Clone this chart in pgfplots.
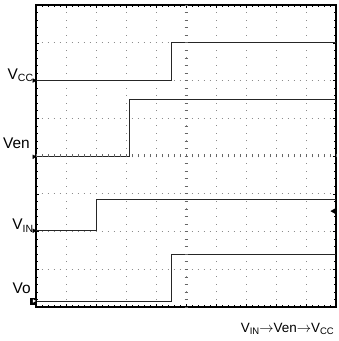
\documentclass[border=0pt]{standalone}
\usepackage{fontspec}
\setmainfont{Liberation Sans}
\usepackage{pgfplots}
\pgfplotsset{compat=1.18}
% lowered, smaller subscript for the channel names
\newcommand{\sub}[2][10.5]{\raisebox{-0.3ex}{\fontsize{#1}{#1}\selectfont #2}}
\newcommand{\lab}{\fontsize{15.5}{15.5}\selectfont}

\begin{document}
\begin{tikzpicture}[x=1bp,y=1bp]
\path[use as bounding box] (0,0) rectangle (339,341);
\begin{axis}[
  at={(36bp,34bp)}, anchor=south west,
  width=300bp, height=302bp, scale only axis,
  xmin=0, xmax=10, ymin=0, ymax=8,
  xtick={0,...,10}, ytick={0,...,8},
  minor x tick num=4, minor y tick num=4,
  xticklabels={}, yticklabels={},
  tick align=inside, xtick pos=both, ytick pos=both,
  major tick length=3bp, minor tick length=2bp,
  every tick/.style={black, line width=0.5bp},
  xmajorgrids, ymajorgrids,
  x grid style={black!45, line width=0.8bp, dash pattern=on 0.8bp off 6.75bp, dash phase=0.4bp},
  y grid style={black!45, line width=0.8bp, dash pattern=on 0.8bp off 5.2bp, dash phase=0.4bp},
  axis line style={line width=1.8bp},
  clip=false,
]
% channel traces (divisions)
\addplot[const plot, black!85, line width=1bp] coordinates {(0,6) (4.53,7) (10,7)};      % VCC
\addplot[const plot, black!85, line width=1bp] coordinates {(0,3.98) (3.1,5.5) (10,5.5)}; % Ven
\addplot[const plot, black!85, line width=1bp] coordinates {(0,2.02) (2.02,2.86) (10,2.86)}; % VIN
\addplot[const plot, black!85, line width=1bp] coordinates {(0,0.15) (4.52,1.38) (10,1.38)}; % Vo

% channel ground markers
\addplot[only marks, mark=triangle*, mark size=2.2bp, mark options={rotate=-90, black}]
  coordinates {(-0.07,6) (-0.07,3.98) (-0.07,2.02)};
\addplot[only marks, mark=square*, mark size=3bp, mark options={black}]
  coordinates {(-0.08,0.16)};
\addplot[only marks, mark=triangle*, mark size=1.5bp, mark options={rotate=-90, white}]
  coordinates {(-0.07,0.16)};
% trigger level marker
\addplot[only marks, mark=triangle*, mark size=3bp, mark options={rotate=90, black}]
  coordinates {(9.93,2.54)};

% channel names
\node[anchor=base east, font=\lab, inner sep=0pt] at (axis cs:-0.09,6.03) {V\sub{CC}};
\node[anchor=base east, font=\lab, inner sep=0pt] at (axis cs:-0.2,4.2) {Ven};
\node[anchor=base east, font=\lab, inner sep=0pt] at (axis cs:-0.09,2.05) {V\sub{IN}};
\node[anchor=base east, font=\lab, inner sep=0pt] at (axis cs:-0.17,0.37) {Vo};
\end{axis}

% graticule centre lines with sub-division ticks
\foreach \i in {-25,...,25} \draw[black!60, line width=0.5bp] (186+\i*6,183.5) -- ++(0,3);
\foreach \j in {-20,...,20} \draw[black!60, line width=0.5bp] (184.5,185+\j*7.55) -- ++(3,0);

\node[anchor=base east, font=\fontsize{13.5}{13.5}\selectfont, inner sep=0pt]
  at (334,9) {V\sub[9.5]{IN}$\rightarrow$Ven$\rightarrow$V\sub[9.5]{CC}};
\end{tikzpicture}
\end{document}
